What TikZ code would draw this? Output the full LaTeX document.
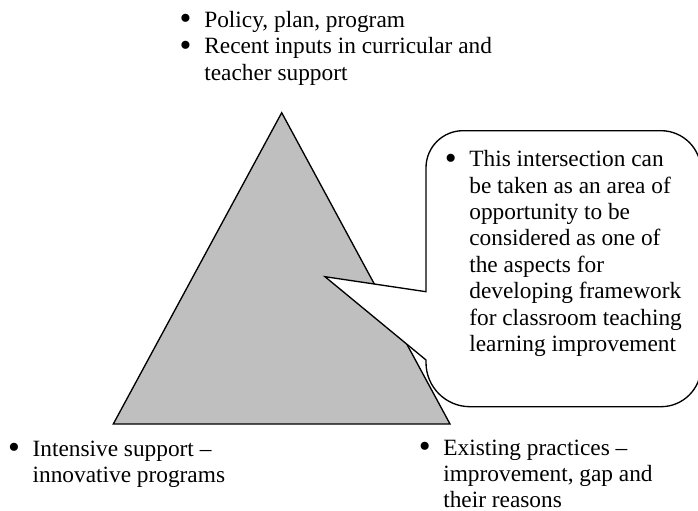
\documentclass[tikz,border=0pt]{standalone}
\usepackage{fontspec}
\setmainfont{Liberation Serif}
\usepackage{tikz}
\tikzset{>=latex}
\tikzset{
	txt/.style = {anchor = base west, inner sep = 0pt},
}
\newcommand{\bul}{\makebox[14pt][l]{\makebox[0pt][c]{\raisebox{-0.1em}{\scalebox{1.45}{\textbullet}}}}}

\begin{document}
\begin{tikzpicture}[x = 0.75pt, y = 0.75pt, font = {\fontsize{17.5pt}{19.8pt}\selectfont}, line width = 1pt]
\useasboundingbox (0,0) rectangle (698,510);

\coordinate (TRI-Top) at (281.7, 397.3);
\coordinate (TRI-Left) at (113.3, 86);
\coordinate (TRI-Right) at (450, 86);
\draw[fill = gray!50] (TRI-Top) -- (TRI-Left) -- (TRI-Right) -- cycle;

% callout over the triangle
\coordinate (TIP) at (325, 233.3);
\draw[fill = white] (426, 218.3) -- (426, 342.3) arc (180:90:37) -- (661, 379.3) arc (90:0:40)
	-- (701, 143.3) arc (0:-90:40) -- (470, 103.3) arc (270:180:44) -- (426, 150) -- (TIP) -- cycle;

\node[txt] (POL) at (185, 482.7) {\begin{tabular}[t]{@{}l@{}l@{}}
	\bul & Policy, plan, program \\
	\bul & Recent inputs in curricular and \\
	& teacher support
\end{tabular}};

\node[txt] (NOTE) at (450, 343.2) {\begin{tabular}[t]{@{}l@{}l@{}}
	\bul & This intersection can \\
	& be taken as an area of \\
	& opportunity to be \\
	& considered as one of \\
	& the aspects for \\
	& developing framework \\
	& for classroom teaching \\
	& learning improvement
\end{tabular}};

\node[txt] (INT) at (13.3, 54) {\begin{tabular}[t]{@{}l@{}l@{}}
	\bul & Intensive support -- \\
	& innovative programs
\end{tabular}};

\node[txt] (EXI) at (424, 55) {\begin{tabular}[t]{@{}l@{}l@{}}
	\bul & Existing practices -- \\
	& improvement, gap and \\
	& their reasons
\end{tabular}};
\end{tikzpicture}
\end{document}
